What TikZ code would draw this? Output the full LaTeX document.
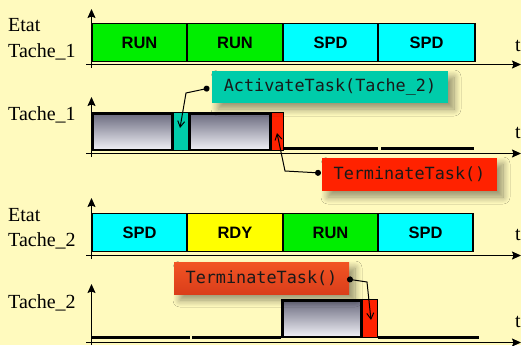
\documentclass[tikz,border=0pt]{standalone}
\usepackage{fontspec}
\setmainfont{Liberation Serif}
\newfontfamily\statefont{Liberation Sans}
\newfontfamily\codefont{DejaVu Sans Mono}
\usetikzlibrary{arrows.meta,shadows.blur}

\definecolor{paper}{RGB}{255,250,190}
\definecolor{runc}{RGB}{0,238,0}
\definecolor{spdc}{RGB}{0,255,255}
\definecolor{rdyc}{RGB}{255,255,0}
\definecolor{tealc}{RGB}{0,204,170}
\definecolor{redc}{RGB}{255,34,0}
\definecolor{orangetop}{RGB}{242,84,36}
\definecolor{orangebot}{RGB}{218,62,26}
\definecolor{graytop}{RGB}{106,106,126}
\definecolor{graybot}{RGB}{240,240,246}
\definecolor{codeink}{RGB}{25,25,25}

\tikzset{
  axis/.style={line width=1.2pt, -{Stealth[length=9pt,width=8pt,inset=1.5pt]}},
  etat/.style={draw=black, line width=1.1pt, minimum height=38pt, inner sep=0pt,
    font=\statefont\bfseries\fontsize{16.5}{18}\selectfont},
  lab/.style={anchor=base west, inner sep=0pt, font=\fontsize{20}{22}\selectfont},
  execbox/.style={draw=black, line width=2.5pt, top color=graytop, bottom color=graybot,
    inner sep=0pt, minimum height=36.5pt},
  slice/.style={draw=black, line width=1pt, inner sep=0pt, minimum height=38pt},
  idle/.style={line width=3pt},
  callout/.style={inner sep=0pt, minimum height=32pt, text=codeink,
    font=\codefont\fontsize{16.8}{18}\selectfont,
    blur shadow={shadow xshift=6pt, shadow yshift=-6pt, shadow blur steps=12,
      shadow opacity=42, shadow blur radius=7pt}},
  link/.style={line width=1pt, {Circle[length=6pt]}-{Straight Barb[length=6pt,width=7pt]}}
}

\begin{document}
\begin{tikzpicture}[x=1pt,y=-1pt]
% paper
\fill[paper] (0,0) rectangle (521,345);
\useasboundingbox (0,0) rectangle (521,345);

% axes of the four chronograms
\draw[axis] (91.5,68) -- (91.5,9);
\draw[axis] (86,64.5) -- (521,64.5);
\draw[axis] (91.5,157) -- (91.5,97);
\draw[axis] (86,153.5) -- (521,153.5);
\draw[axis] (91.5,259) -- (91.5,198);
\draw[axis] (86,255.5) -- (521,255.5);
\draw[axis] (91.5,345) -- (91.5,284);
\draw[axis] (86,342.5) -- (521,342.5);

% row labels
\node[lab] (e1) at (8,32) {Etat};
\node[lab] (e1b) at (8,57) {Tache\_1};
\node[lab] (x1) at (8,120) {Tache\_1};
\node[lab] (e2) at (8,221) {Etat};
\node[lab] (e2b) at (8,246) {Tache\_2};
\node[lab] (x2) at (8,308) {Tache\_2};

\node[lab] (t1) at (515,52) {t};
\node[lab] (t2) at (515,138.5) {t};
\node[lab] (t3) at (515,240) {t};
\node[lab] (t4) at (515,327) {t};

% states of Tache_1
\node[etat, fill=runc, minimum width=95pt] (s1a) at (139.5,42.5) {RUN};
\node[etat, fill=runc, minimum width=96pt] (s1b) at (235,42.5) {RUN};
\node[etat, fill=spdc, minimum width=95pt] (s1c) at (330.5,42.5) {SPD};
\node[etat, fill=spdc, minimum width=97pt] (s1d) at (426.5,42.5) {SPD};

% execution of Tache_1
\node[slice, fill=tealc, minimum width=15pt] (ta) at (180.5,131.5) {};
\node[execbox, minimum width=79.5pt] (g1) at (132,131.5) {};
\node[execbox, minimum width=80.5pt] (g2) at (229.5,131.5) {};
\node[slice, fill=redc, minimum width=12pt] (tr1) at (277.5,131.5) {};
\draw[idle] (284,148) -- (378,148);
\draw[idle] (381,148) -- (474,148);

% states of Tache_2
\node[etat, fill=spdc, minimum width=95pt] (s2a) at (139.5,232.5) {SPD};
\node[etat, fill=rdyc, minimum width=96pt] (s2b) at (235,232.5) {RDY};
\node[etat, fill=runc, minimum width=95pt] (s2c) at (330.5,232.5) {RUN};
\node[etat, fill=spdc, minimum width=95pt] (s2d) at (425.5,232.5) {SPD};

% execution of Tache_2
\draw[idle] (91,337) -- (190,337);
\draw[idle] (192,337) -- (281,337);
\draw[idle] (378,337) -- (479,337);
\node[execbox, minimum width=78.5pt] (g3) at (321.5,318.5) {};
\node[slice, fill=redc, minimum width=15pt] (tr2) at (370,318.5) {};

% service calls
\node[callout, fill=tealc, minimum width=236pt] (act) at (330,87) {ActivateTask(Tache\_2)};
\node[callout, fill=redc, minimum width=175pt, minimum height=33pt] (term1) at (409.5,174.5) {TerminateTask()};
\node[callout, top color=orangetop, bottom color=orangebot, minimum width=175pt] (term2) at (261.5,278) {TerminateTask()};

% connectors from the calls to the slices
\coordinate (actdot) at (209.5,88);
\coordinate (actbend) at (186,93);
\coordinate (actend) at (180,128);
\draw[link] (actdot) -- (actbend) -- (actend);

\coordinate (t1dot) at (321,173);
\coordinate (t1bend) at (285,171);
\coordinate (t1end) at (277,133);
\draw[link] (t1dot) -- (t1bend) -- (t1end);

\coordinate (t2dot) at (347,279);
\coordinate (t2bend) at (367,282);
\coordinate (t2end) at (371,320);
\draw[link] (t2dot) -- (t2bend) -- (t2end);
\end{tikzpicture}
\end{document}
